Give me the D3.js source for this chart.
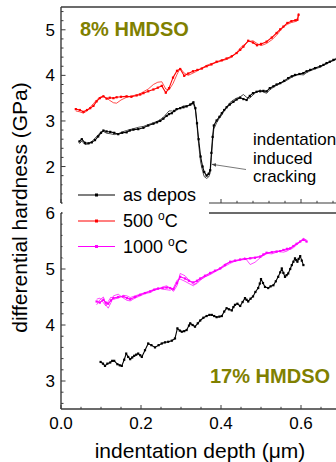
<!DOCTYPE html>
<html>
<head>
<meta charset="utf-8">
<script src="https://cdnjs.cloudflare.com/ajax/libs/d3/7.8.5/d3.min.js"></script>
<style>
  html, body { margin: 0; padding: 0; background: #fff; }
  svg { display: block; font-family: "Liberation Sans", Arial, sans-serif; }
</style>
</head>
<body>
<svg id="chart" width="336" height="462"></svg>
<script>
// ---- 8% HMDSO film (upper panel) ----
const top500X = [0.037,0.047,0.056,0.065,0.073,0.081,0.089,0.097,0.106,0.114,0.122,0.131,0.139,0.150,0.164,0.176,0.189,0.198,0.206,0.218,0.231,0.242,0.252,0.262,0.270,0.280,0.290,0.298,0.308,0.318,0.330,0.341,0.352,0.364,0.376,0.389,0.402,0.414,0.427,0.439,0.448,0.456,0.468,0.480,0.490,0.500,0.514,0.527,0.539,0.548,0.556,0.566,0.576,0.586,0.591,0.594];
const top500Y = [3.26,3.24,3.20,3.24,3.28,3.33,3.43,3.50,3.54,3.49,3.51,3.50,3.52,3.53,3.54,3.53,3.56,3.58,3.61,3.65,3.69,3.73,3.77,3.62,3.72,3.95,4.10,4.14,3.99,4.04,4.09,4.12,4.15,4.20,4.24,4.30,4.33,4.37,4.42,4.49,4.56,4.63,4.76,4.72,4.66,4.69,4.74,4.83,4.93,5.01,5.07,5.15,5.19,5.21,5.22,5.33];
const top500Yb = [3.22,3.20,3.17,3.22,3.30,3.38,3.46,3.52,3.55,3.50,3.45,3.40,3.39,3.46,3.52,3.55,3.57,3.60,3.64,3.70,3.80,3.85,3.86,3.70,3.68,3.82,4.02,4.16,4.05,4.00,4.05,4.10,4.16,4.22,4.26,4.28,4.32,4.35,4.40,4.50,4.60,4.66,4.74,4.76,4.70,4.65,4.70,4.78,4.88,4.98,5.06,5.12,5.16,5.18,5.20,5.36];

const topDepX = [0.046,0.052,0.060,0.069,0.077,0.085,0.093,0.100,0.106,0.114,0.123,0.133,0.143,0.153,0.164,0.172,0.181,0.193,0.206,0.218,0.231,0.240,0.248,0.256,0.264,0.270,0.277,0.283,0.289,0.298,0.306,0.314,0.323,0.331,0.336,0.340,0.344,0.349,0.354,0.358,0.364,0.369,0.373,0.376,0.379,0.382,0.389,0.396,0.402,0.408,0.414,0.422,0.431,0.439,0.448,0.456,0.464,0.472,0.480,0.489,0.498,0.506,0.514,0.522,0.531,0.539,0.548,0.558,0.568,0.577,0.585,0.596,0.606,0.614,0.623,0.635,0.648,0.656,0.664,0.672,0.681,0.690,0.700];
const topDepY = [2.55,2.60,2.52,2.51,2.53,2.58,2.66,2.74,2.79,2.77,2.76,2.74,2.71,2.74,2.75,2.79,2.81,2.82,2.85,2.90,2.94,2.97,3.00,3.05,3.11,3.15,3.17,3.22,3.26,3.28,3.30,3.32,3.36,3.41,3.28,2.95,2.60,2.22,2.00,1.88,1.80,1.84,1.92,2.30,2.65,2.90,3.01,3.09,3.17,3.24,3.30,3.36,3.42,3.47,3.51,3.48,3.46,3.55,3.61,3.64,3.65,3.66,3.65,3.72,3.76,3.80,3.83,3.88,3.94,3.98,4.01,4.03,4.05,4.09,4.12,4.16,4.20,4.23,4.27,4.30,4.34,4.37,4.40];
const topDepYb = [2.50,2.56,2.48,2.50,2.55,2.62,2.70,2.76,2.77,2.73,2.72,2.70,2.72,2.76,2.79,2.81,2.83,2.86,2.88,2.92,2.96,2.99,3.03,3.08,3.16,3.22,3.22,3.20,3.24,3.29,3.33,3.33,3.34,3.38,3.24,2.90,2.50,2.10,1.90,1.78,1.74,1.77,1.86,2.20,2.55,2.82,2.96,3.06,3.13,3.22,3.30,3.40,3.46,3.50,3.53,3.58,3.52,3.50,3.57,3.64,3.68,3.63,3.61,3.68,3.74,3.78,3.82,3.86,3.91,3.96,3.99,4.02,4.01,4.06,4.10,4.14,4.18,4.22,4.25,4.29,4.32,4.36,4.39];

// ---- 17% HMDSO film (lower panel) ----
const bot1000X = [0.089,0.097,0.106,0.112,0.118,0.125,0.131,0.143,0.156,0.165,0.173,0.185,0.198,0.210,0.223,0.233,0.243,0.254,0.264,0.273,0.281,0.290,0.298,0.310,0.320,0.331,0.340,0.348,0.360,0.373,0.385,0.398,0.410,0.423,0.435,0.448,0.460,0.473,0.485,0.498,0.506,0.514,0.527,0.539,0.548,0.556,0.565,0.573,0.581,0.589,0.598,0.606,0.614];
const bot1000Y = [4.42,4.40,4.45,4.40,4.38,4.44,4.48,4.50,4.51,4.48,4.46,4.50,4.54,4.57,4.60,4.63,4.65,4.66,4.67,4.66,4.64,4.75,4.86,4.83,4.79,4.76,4.79,4.83,4.88,4.93,4.97,5.01,5.07,5.13,5.15,5.17,5.18,5.19,5.20,5.22,5.26,5.29,5.30,5.31,5.32,5.34,5.36,5.37,5.41,5.45,5.49,5.52,5.49];
const bot1000Yb = [4.36,4.45,4.50,4.36,4.30,4.40,4.52,4.55,4.48,4.44,4.43,4.48,4.52,4.56,4.58,4.62,4.64,4.68,4.70,4.66,4.60,4.70,4.92,4.88,4.80,4.72,4.74,4.80,4.86,4.90,4.95,5.00,5.05,5.10,5.14,5.16,5.20,5.08,5.12,5.20,5.24,5.28,5.27,5.30,5.33,5.33,5.34,5.35,5.38,5.43,5.48,5.55,5.50];
const bot1000Yc = [4.46,4.48,4.40,4.34,4.42,4.50,4.46,4.48,4.53,4.52,4.49,4.52,4.55,4.58,4.61,4.64,4.66,4.64,4.63,4.62,4.66,4.80,4.82,4.78,4.74,4.70,4.76,4.81,4.86,4.91,4.96,5.02,5.09,5.12,5.14,5.16,5.17,5.20,5.21,5.23,5.25,5.27,5.30,5.32,5.31,5.30,5.32,5.36,5.40,5.44,5.50,5.54,5.52];

const botDepX = [0.099,0.105,0.110,0.116,0.123,0.128,0.133,0.141,0.147,0.152,0.158,0.163,0.168,0.173,0.178,0.183,0.188,0.193,0.198,0.202,0.210,0.218,0.226,0.235,0.244,0.252,0.260,0.268,0.277,0.285,0.291,0.297,0.302,0.308,0.314,0.320,0.323,0.329,0.335,0.342,0.348,0.356,0.364,0.371,0.377,0.383,0.389,0.396,0.402,0.408,0.414,0.420,0.427,0.431,0.435,0.441,0.448,0.454,0.460,0.464,0.468,0.474,0.480,0.486,0.493,0.497,0.500,0.505,0.510,0.518,0.524,0.531,0.537,0.543,0.548,0.552,0.556,0.560,0.564,0.568,0.573,0.577,0.581,0.585,0.588,0.591,0.594,0.598,0.602,0.606];
const botDepY = [3.34,3.31,3.27,3.31,3.33,3.36,3.36,3.30,3.28,3.27,3.38,3.49,3.43,3.39,3.42,3.45,3.47,3.49,3.46,3.43,3.55,3.67,3.64,3.60,3.64,3.67,3.69,3.70,3.72,3.76,3.94,3.90,3.88,3.89,3.91,3.99,4.03,4.00,3.97,4.03,4.08,4.13,4.16,4.18,4.18,4.16,4.14,4.15,4.16,4.24,4.30,4.28,4.26,4.32,4.36,4.38,4.34,4.41,4.48,4.45,4.42,4.47,4.51,4.59,4.66,4.74,4.82,4.75,4.68,4.66,4.69,4.71,4.78,4.86,4.94,5.01,4.93,4.86,4.89,4.92,5.00,5.07,5.13,5.19,5.16,5.13,5.18,5.23,5.15,5.07];

// ---- axes / labels ----
const xDomain = [0, 0.7];
const topDomain = [1.2, 5.5];
const botDomain = [2.5, 6];
const xTickLabels = ["0.0", "0.2", "0.4", "0.6"];
const topTickVals = [2, 3, 4, 5];
const botTickVals = [3, 4, 5, 6];
const legendNames = ["as depos", "500 ", "1000 "];
const colors = { dep: "#000000", t500: "#ff0000", t1000: "#ff00ff" };
const olive = "#808000";

const svg = d3.select("#chart");
const L = 61, R = 341;
const topPanel = { y0: 7, y1: 203 };
const botPanel = { y0: 213, y1: 409 };

const x = d3.scaleLinear().domain(xDomain).range([L, R]);
const yTop = d3.scaleLinear().domain(topDomain).range([topPanel.y1, topPanel.y0]);
const yBot = d3.scaleLinear().domain(botDomain).range([botPanel.y1, botPanel.y0]);

const axisColor = "#3a3a3a";

function drawSeries(xs, ys, y, color, thin, markers) {
  const pts = xs.map((v, i) => [v, ys[i]]);
  const line = d3.line().x(d => x(d[0])).y(d => y(d[1]));
  svg.append("path").datum(pts)
    .attr("d", line)
    .attr("fill", "none")
    .attr("stroke", color)
    .attr("stroke-width", thin ? 0.7 : 1.1)
    .attr("stroke-linejoin", "round");
  if (markers) {
    svg.append("g").selectAll("rect").data(pts).join("rect")
      .attr("x", d => x(d[0]) - 1.1)
      .attr("y", d => y(d[1]) - 1.1)
      .attr("width", 2.2).attr("height", 2.2)
      .attr("fill", color);
  }
}

const defs = svg.append("defs");

// upper panel curves
drawSeries(top500X, top500Yb, yTop, colors.t500, true, false);
drawSeries(top500X, top500Y, yTop, colors.t500, false, true);
drawSeries(topDepX, topDepYb, yTop, colors.dep, true, false);
drawSeries(topDepX, topDepY, yTop, colors.dep, false, true);

// lower panel curves
drawSeries(bot1000X, bot1000Yb, yBot, colors.t1000, true, false);
drawSeries(bot1000X, bot1000Yc, yBot, colors.t1000, true, false);
drawSeries(bot1000X, bot1000Y, yBot, colors.t1000, false, true);
drawSeries(botDepX, botDepY, yBot, colors.dep, false, true);

// frame lines
function hline(yv, w) {
  svg.append("line").attr("x1", L).attr("x2", R).attr("y1", yv).attr("y2", yv)
    .attr("stroke", axisColor).attr("stroke-width", w);
}
function vline(y0, y1) {
  svg.append("line").attr("x1", L).attr("x2", L).attr("y1", y0).attr("y2", y1)
    .attr("stroke", axisColor).attr("stroke-width", 1.4);
}
hline(topPanel.y0, 1.6);
hline(topPanel.y1, 1.2);
hline(botPanel.y0, 1.6);
hline(botPanel.y1, 1.4);
vline(topPanel.y0, topPanel.y1);
vline(botPanel.y0, botPanel.y1);

// y ticks (inward)
function yTicks(scale, domain, majors) {
  const minor = d3.range(Math.ceil(domain[0] / 0.2) * 0.2, domain[1] + 1e-9, 0.2)
    .map(v => +v.toFixed(2));
  svg.append("g").selectAll("line").data(minor).join("line")
    .attr("x1", L).attr("x2", d => L + (majors.includes(Math.round(d * 100) / 100) ? 4.5 : 2.5))
    .attr("y1", d => scale(d)).attr("y2", d => scale(d))
    .attr("stroke", axisColor).attr("stroke-width", 1);
  svg.append("g").selectAll("text").data(majors).join("text")
    .attr("x", 55).attr("y", d => scale(d))
    .attr("dy", "0.36em")
    .attr("text-anchor", "end")
    .attr("font-size", 17)
    .text(d => d);
}
yTicks(yTop, topDomain, topTickVals);
yTicks(yBot, botDomain, botTickVals);

// x ticks (inward): lower frame every 0.05, upper frame every 0.04
function xTicks(yv, step) {
  const vals = d3.range(0, 0.7 + 1e-9, step).map(v => +v.toFixed(3));
  svg.append("g").selectAll("line").data(vals).join("line")
    .attr("x1", d => x(d)).attr("x2", d => x(d))
    .attr("y1", yv)
    .attr("y2", d => yv - (Math.abs(d / 0.2 - Math.round(d / 0.2)) < 1e-6 ? 4 : 2.2))
    .attr("stroke", axisColor).attr("stroke-width", 1);
}
xTicks(botPanel.y1, 0.05);
xTicks(topPanel.y1, 0.04);

svg.append("g").selectAll("text").data(xTickLabels).join("text")
  .attr("x", d => x(+d)).attr("y", 429)
  .attr("text-anchor", "middle")
  .attr("font-size", 17)
  .text(d => d);

// axis titles
const xt = svg.append("text")
  .attr("x", 200).attr("y", 458)
  .attr("text-anchor", "middle")
  .attr("font-size", 21);
xt.append("tspan").text("indentation depth (");
xt.append("tspan").text("\u03bc");
xt.append("tspan").text("m)");

svg.append("text")
  .attr("transform", "translate(27,207.5) rotate(-90)")
  .attr("text-anchor", "middle")
  .attr("font-size", 21)
  .text("differential hardness (GPa)");

// film labels
svg.append("text").attr("x", 80).attr("y", 36)
  .attr("font-size", 20).attr("font-weight", "bold").attr("fill", olive)
  .text("8% HMDSO");
svg.append("text").attr("x", 210).attr("y", 383)
  .attr("font-size", 20).attr("font-weight", "bold").attr("fill", olive)
  .text("17% HMDSO");

// crack annotation
defs.append("marker").attr("id", "arrow")
  .attr("viewBox", "0 0 10 10").attr("refX", 9).attr("refY", 5)
  .attr("markerWidth", 6).attr("markerHeight", 6).attr("orient", "auto")
  .append("path").attr("d", "M0,1 L10,5 L0,9 Z").attr("fill", "#444");
svg.append("line")
  .attr("x1", 246).attr("y1", 169.5).attr("x2", 212).attr("y2", 164.3)
  .attr("stroke", "#555").attr("stroke-width", 0.8)
  .attr("marker-end", "url(#arrow)");
const noteLines = ["indentation", "induced", "cracking"];
svg.append("g").selectAll("text").data(noteLines).join("text")
  .attr("x", 253).attr("y", (d, i) => 145 + i * 18.5)
  .attr("font-size", 17)
  .text(d => d);

// legend (opaque box over the frame gap)
svg.append("rect").attr("x", 62.5).attr("y", 183).attr("width", 146.5).attr("height", 75)
  .attr("fill", "#fff");
const legendColors = [colors.dep, colors.t500, colors.t1000];
const legendY = [195, 221, 246.5];
legendNames.forEach((name, i) => {
  const g = svg.append("g");
  g.append("line").attr("x1", 78).attr("x2", 115).attr("y1", legendY[i]).attr("y2", legendY[i])
    .attr("stroke", legendColors[i]).attr("stroke-width", 1.2);
  g.append("rect").attr("x", 96.5 - 1.5).attr("y", legendY[i] - 1.5)
    .attr("width", 3).attr("height", 3).attr("fill", legendColors[i]);
  const t = g.append("text").attr("x", 123).attr("y", legendY[i]).attr("dy", "0.36em")
    .attr("font-size", 18);
  t.append("tspan").text(name);
  if (i > 0) {
    t.append("tspan").attr("font-size", 12).attr("dy", -7).text("o");
    t.append("tspan").attr("dy", 7).text("C");
  }
});
</script>
</body>
</html>
